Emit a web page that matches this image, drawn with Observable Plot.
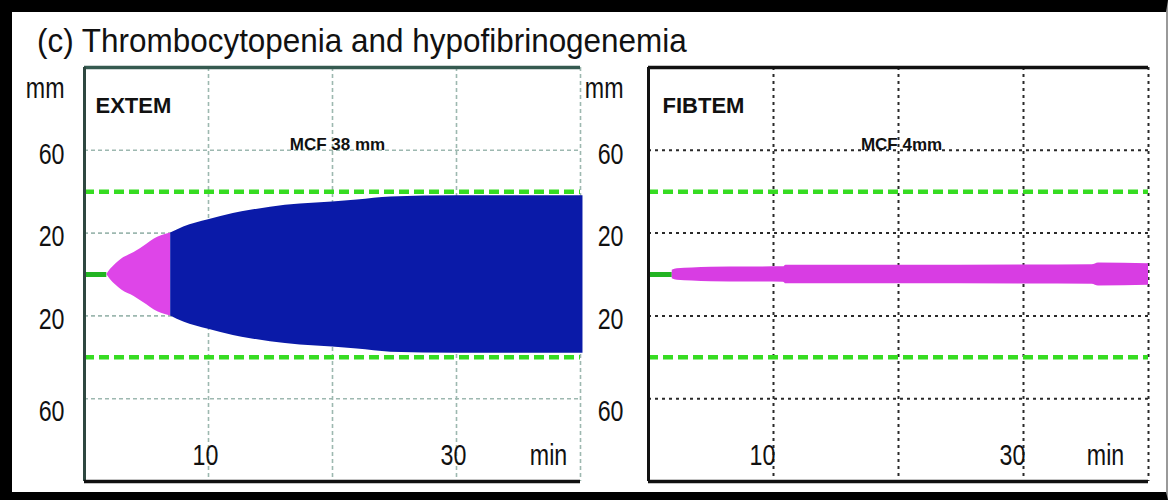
<!DOCTYPE html>
<html>
<head>
<meta charset="utf-8">
<script src="https://cdn.jsdelivr.net/npm/d3@7"></script>
<script src="https://cdn.jsdelivr.net/npm/@observablehq/plot@0.6"></script>
<style>
  html, body { margin: 0; padding: 0; background: #fff; }
  #wrap { position: relative; width: 1168px; height: 500px; overflow: hidden; background: #fff; }
  #border { position: absolute; left: 0; top: 0; width: 1168px; height: 500px; box-sizing: border-box;
            border-left: 12px solid #000; border-top: 12px solid #000; border-bottom: 8px solid #000; border-right: 2px solid #999;
            pointer-events: none; z-index: 5; }
  #title { position: absolute; left: 37px; top: 22px; font-family: "Liberation Sans", Arial, sans-serif;
           font-size: 34px; line-height: 36px; color: #111; white-space: nowrap;
           transform: scaleX(0.925); transform-origin: left center; }
  .panel { position: absolute; top: 0; }
</style>
</head>
<body>
<div id="wrap">
  <div id="title">(c) Thrombocytopenia and hypofibrinogenemia</div>
  <div id="left" class="panel" style="left:0px"></div>
  <div id="right" class="panel" style="left:584px"></div>
  <div id="border"></div>
</div>
<script>
// ---- data (time in min, amplitude in mm) ----
const panelNames = ["EXTEM", "FIBTEM"];
const mcfLabels = ["MCF 38 mm", "MCF 4mm"];
const yTicks = [60, 20, -20, -60];
const xTicks = [10, 30];
const xGrid = [10, 20, 30, 40];
const refLines = [40, -40];

const extemPinkT = [1.8, 2.1, 2.5, 3, 4, 5, 5.6, 6.2, 6.95];
const extemPinkA = [0, 2.5, 5, 7.5, 10.6, 14.5, 17, 18.7, 20];
const extemBlueT = [6.95, 8, 10, 12, 13.4, 15, 17.4, 20, 22, 24.7, 30, 35, 40.2];
const extemBlueA = [20, 23, 26.5, 29.5, 31, 32.5, 34, 35, 36, 37.5, 38, 38, 38];

const fibtemT = [1.9, 2.3, 3.5, 5, 8, 10.8, 11, 20, 30, 35.5, 36, 40];
const fibtemA = [2.0, 2.8, 3.2, 3.5, 3.6, 3.7, 4.5, 4.5, 4.6, 4.7, 5.6, 5.2];

const labelFont = '"Liberation Sans", Arial, sans-serif';
const boldFont = '"Liberation Sans", Arial, sans-serif';

const zip = (T, A) => T.map((t, i) => ({t, a: A[i]}));

function panel({name, mcf, traces, startT, gridColor, gridDash, gridWidth, frameTop, frameLeft, marginLeft, marginRight, labelPad, nameDx, tickDx, minDx, mcfDx}) {
  const svg = Plot.plot({
    width: 584, height: 500,
    marginLeft, marginRight, marginTop: 67, marginBottom: 19,
    x: {domain: [0, 40], axis: null},
    y: {domain: [-100, 100], axis: null},
    style: {background: "transparent", overflow: "visible", fontFamily: labelFont, color: "#111"},
    marks: [
      Plot.ruleY(yTicks, {stroke: gridColor, strokeWidth: gridWidth, strokeDasharray: gridDash}),
      Plot.ruleX(xGrid, {stroke: gridColor, strokeWidth: gridWidth, strokeDasharray: gridDash}),
      Plot.ruleY([0], {x1: 0, x2: startT, stroke: "#22b422", strokeWidth: 5}),
      ...traces.map(tr => Plot.areaY(tr.data, {x: "t", y1: d => -d.a, y2: d => d.a, fill: tr.fill, curve: "monotone-x"})),
      Plot.ruleY(refLines, {stroke: "#36dc22", strokeWidth: 4.5, strokeDasharray: "10,5"}),
      Plot.ruleY([100], {stroke: frameTop, strokeWidth: 3.5}),
      Plot.ruleX([0], {stroke: frameLeft, strokeWidth: 3}),
      Plot.ruleY([-100], {stroke: "#111", strokeWidth: 3.5}),
      // y tick labels
      Plot.text(yTicks.filter(d => d > -60), {y: d => d, text: d => String(Math.abs(d)), frameAnchor: "left", textAnchor: "end", dx: -labelPad, dy: 4, fontSize: 29}),
      Plot.text(yTicks.filter(d => d <= -60), {y: d => d, text: d => String(Math.abs(d)), frameAnchor: "left", textAnchor: "end", dx: -labelPad, dy: 13, fontSize: 29}),
      Plot.text(["mm"], {frameAnchor: "top-left", textAnchor: "end", dx: -labelPad, dy: 10, fontSize: 29}),
      // x tick labels
      Plot.text(xTicks, {x: d => d, text: d => String(d), frameAnchor: "bottom", dx: tickDx, dy: -17, fontSize: 29}),
      Plot.text(["min"], {frameAnchor: "bottom-right", textAnchor: "middle", dx: minDx, dy: -17, fontSize: 29}),
      // panel name and MCF
      Plot.text([name], {frameAnchor: "top-left", textAnchor: "start", dx: nameDx, dy: 30, fontSize: 22, fontWeight: "bold", fontFamily: boldFont}),
      Plot.text([mcf], {frameAnchor: "top", textAnchor: "middle", dx: mcfDx, dy: 70, fontSize: 17, fontWeight: "bold", fontFamily: boldFont})
    ]
  });
  // condense the regular (non-bold) labels horizontally, as in the original instrument print-out
  d3.select(svg).selectAll("text").each(function() {
    const g = this.closest("g");
    if (g && g.getAttribute("font-weight") === "bold") return;
    const t = this.getAttribute("transform");
    this.setAttribute("transform", (t ? t + " " : "") + "scale(0.8,1)");
  });
  return svg;
}

document.getElementById("left").append(panel({
  name: panelNames[0], mcf: mcfLabels[0],
  traces: [{data: zip(extemPinkT, extemPinkA), fill: "#de45e8"}, {data: zip(extemBlueT, extemBlueA), fill: "#0a1aa8"}],
  startT: extemPinkT[0],
  gridColor: "#9db8b0", gridDash: "4,3", gridWidth: 1.6,
  frameTop: "#355a50", frameLeft: "#2e4740",
  marginLeft: 84, marginRight: 4, labelPad: 20, nameDx: 11, tickDx: -3, minDx: -32, mcfDx: 5
}));

document.getElementById("right").append(panel({
  name: panelNames[1], mcf: mcfLabels[1],
  traces: [{data: zip(fibtemT, fibtemA), fill: "#d83de3"}],
  startT: fibtemT[0],
  gridColor: "#2a2a2a", gridDash: "3,4", gridWidth: 2,
  frameTop: "#111", frameLeft: "#111",
  marginLeft: 64, marginRight: 20, labelPad: 25, nameDx: 14, tickDx: -11, minDx: -43, mcfDx: 3
}));
</script>
</body>
</html>
